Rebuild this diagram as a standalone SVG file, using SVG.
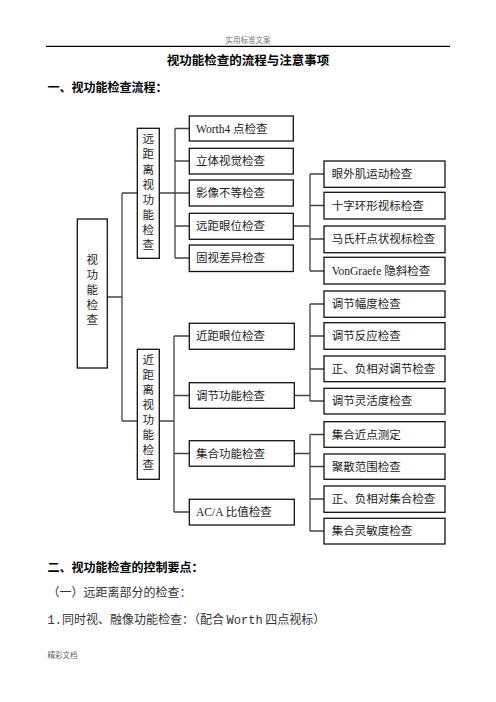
<svg xmlns="http://www.w3.org/2000/svg" width="496" height="702" viewBox="0 0 496 702">
<style>
text{font-family:"Liberation Serif","Noto Sans CJK SC",serif;fill:#222}
.b{fill:#fff;stroke:#111;stroke-width:1.3}
.t{font-size:11.5px;dominant-baseline:central}
.v{font-size:11.5px;text-anchor:middle;dominant-baseline:central}
.c{fill:none;stroke:#444;stroke-width:1.3}
.h{font-family:"Noto Sans CJK SC",sans-serif;font-weight:bold;font-size:12px;fill:#000}
.p{font-family:"Noto Sans CJK SC",sans-serif;font-size:12px;fill:#333}
.m{font-family:"Liberation Mono",monospace}
</style>
<rect width="496" height="702" fill="#fff"/>
<g id="header">
<text x="248" y="43" text-anchor="middle" style="font-family:'Noto Sans CJK SC',sans-serif;font-size:7.5px;fill:#777">实用标准文案</text>
<line x1="46" y1="46.3" x2="450" y2="46.3" stroke="#000" stroke-width="1.2"/>
<text x="248" y="65" text-anchor="middle" class="h" style="font-size:12.5px">视功能检查的流程与注意事项</text>
<text x="47.5" y="91.5" class="h">一、视功能检查流程：</text>
</g>
<g id="connectors">
<path class="c" d="M107 297H122M122 193V421M122 193H137M122 421H137"/>
<path class="c" d="M159 193H175M175 128.5V258M175 128.5H189M175 161H189M175 193H189M175 226H189M175 258H189"/>
<path class="c" d="M293 226H310M310 174V271M310 174H324M310 205.5H324M310 239H324M310 271H324"/>
<path class="c" d="M159 421H174M174 336V512M174 336H189M174 395.5H189M174 453.5H189M174 512H189"/>
<path class="c" d="M293 395.5H310M310 304V401M310 304H324M310 336H324M310 369H324M310 401H324"/>
<path class="c" d="M293 453.5H310M310 434.5V531M310 434.5H324M310 466.5H324M310 499H324M310 531H324"/>
</g>
<g id="root"><rect class="b" x="77.3" y="219" width="30" height="149"/>
<text class="v" x="92.3"><tspan x="92.3" y="260">视</tspan><tspan x="92.3" y="275">功</tspan><tspan x="92.3" y="290">能</tspan><tspan x="92.3" y="305">检</tspan><tspan x="92.3" y="320">查</tspan></text></g>
<g id="far"><rect class="b" x="137.3" y="128.3" width="22" height="130"/>
<text class="v"><tspan x="148.3" y="139.3">远</tspan><tspan x="148.3" y="154.4">距</tspan><tspan x="148.3" y="169.5">离</tspan><tspan x="148.3" y="184.6">视</tspan><tspan x="148.3" y="199.7">功</tspan><tspan x="148.3" y="214.8">能</tspan><tspan x="148.3" y="229.9">检</tspan><tspan x="148.3" y="245">查</tspan></text></g>
<g id="near"><rect class="b" x="137.3" y="349.3" width="22" height="130"/>
<text class="v"><tspan x="148.3" y="359.5">近</tspan><tspan x="148.3" y="374.6">距</tspan><tspan x="148.3" y="389.7">离</tspan><tspan x="148.3" y="404.8">视</tspan><tspan x="148.3" y="419.9">功</tspan><tspan x="148.3" y="435">能</tspan><tspan x="148.3" y="450.1">检</tspan><tspan x="148.3" y="465.2">查</tspan></text></g>
<g id="n1"><rect class="b" x="189.3" y="116" width="104" height="25"/><text class="t" x="196" y="128.5">Worth4 点检查</text></g>
<g id="n2"><rect class="b" x="189.3" y="148.3" width="104" height="25.7"/><text class="t" x="196" y="161">立体视觉检查</text></g>
<g id="n3"><rect class="b" x="189.3" y="180" width="104" height="26"/><text class="t" x="196" y="193">影像不等检查</text></g>
<g id="n4"><rect class="b" x="189.3" y="213.3" width="104" height="26"/><text class="t" x="196" y="226.3">远距眼位检查</text></g>
<g id="n5"><rect class="b" x="189.3" y="245" width="104" height="26.5"/><text class="t" x="196" y="258.3">固视差异检查</text></g>
<g id="n6"><rect class="b" x="189.3" y="323.3" width="105" height="26"/><text class="t" x="196" y="336.3">近距眼位检查</text></g>
<g id="n7"><rect class="b" x="189.3" y="382.7" width="105" height="25.6"/><text class="t" x="196" y="395.5">调节功能检查</text></g>
<g id="n8"><rect class="b" x="189.3" y="440.7" width="105" height="25.5"/><text class="t" x="196" y="453.5">集合功能检查</text></g>
<g id="n9"><rect class="b" x="189.3" y="499.3" width="105" height="25.7"/><text class="t" x="196" y="512.2">AC/A 比值检查</text></g>
<g id="r1"><rect class="b" x="324" y="161" width="121" height="26.3"/><text class="t" x="331.7" y="174.2">眼外肌运动检查</text></g>
<g id="r2"><rect class="b" x="324" y="192.3" width="121" height="26.7"/><text class="t" x="331.7" y="205.7">十字环形视标检查</text></g>
<g id="r3"><rect class="b" x="324" y="226" width="121" height="26.7"/><text class="t" x="331.7" y="239.3">马氏杆点状视标检查</text></g>
<g id="r4"><rect class="b" x="324" y="257.3" width="121" height="26.7"/><text class="t" x="331.7" y="270.7">VonGraefe 隐斜检查</text></g>
<g id="r5"><rect class="b" x="324" y="291" width="121" height="26.3"/><text class="t" x="331.7" y="304.2">调节幅度检查</text></g>
<g id="r6"><rect class="b" x="324" y="322.7" width="121" height="26.6"/><text class="t" x="331.7" y="336">调节反应检查</text></g>
<g id="r7"><rect class="b" x="324" y="356" width="121" height="25.7"/><text class="t" x="331.7" y="368.9">正、负相对调节检查</text></g>
<g id="r8"><rect class="b" x="324" y="388.3" width="121" height="25.7"/><text class="t" x="331.7" y="401.2">调节灵活度检查</text></g>
<g id="r9"><rect class="b" x="324" y="421.7" width="121" height="25.6"/><text class="t" x="331.7" y="434.5">集合近点测定</text></g>
<g id="r10"><rect class="b" x="324" y="454" width="121" height="25.3"/><text class="t" x="331.7" y="466.7">聚散范围检查</text></g>
<g id="r11"><rect class="b" x="324" y="486" width="121" height="26.3"/><text class="t" x="331.7" y="499.2">正、负相对集合检查</text></g>
<g id="r12"><rect class="b" x="324" y="518.3" width="121" height="25.7"/><text class="t" x="331.7" y="531.2">集合灵敏度检查</text></g>
<g id="footer">
<text x="47.5" y="571.5" class="h">二、视功能检查的控制要点：</text>
<text x="47.5" y="597" class="p">（一）远距离部分的检查：</text>
<text x="47.5" y="623.5" class="p"><tspan class="m">1.</tspan>同时视、融像功能检查：（配合 <tspan class="m">Worth</tspan> 四点视标）</text>
<text x="47.5" y="658" style="font-family:'Noto Sans CJK SC',sans-serif;font-size:7.5px;fill:#666">精彩文档</text>
</g>
</svg>
